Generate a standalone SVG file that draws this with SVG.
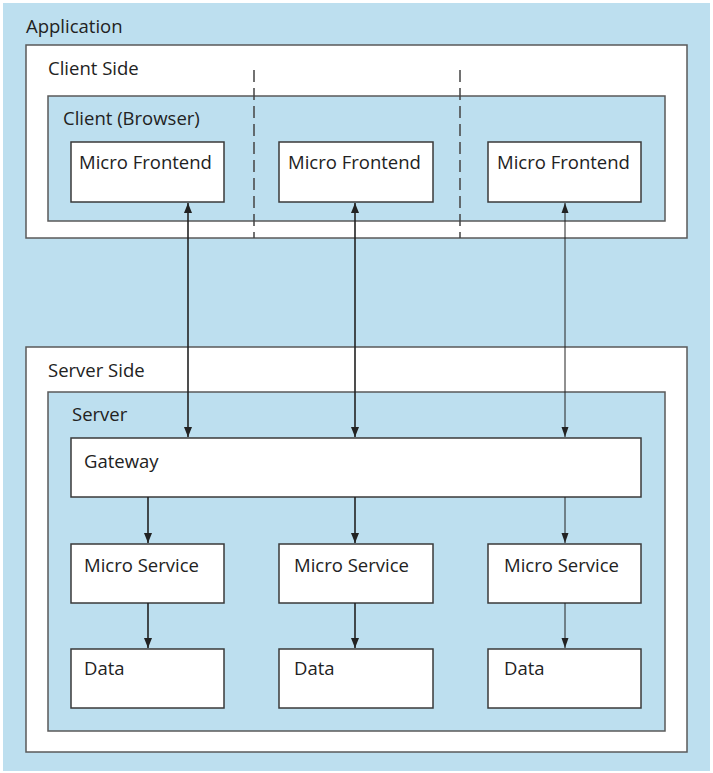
<svg xmlns="http://www.w3.org/2000/svg" width="713" height="773" viewBox="0 0 713 773">
<defs>
<style>
.bg{fill:#bddfef}
.w{fill:#ffffff;stroke:#5a5a5a;stroke-width:1.5}
.b{fill:#bddfef;stroke:#5a5a5a;stroke-width:1.5}
.n{fill:#ffffff;stroke:#3a3a3a;stroke-width:1.5}
text{font-family:"Open Sans","Noto Sans",sans-serif;font-size:18.5px;fill:#222}
.c{stroke:#222;stroke-width:1.6;fill:none}
.t{stroke:#222;stroke-width:1;fill:none}
.d{stroke:#444;stroke-width:1.5;stroke-dasharray:12,6;fill:none}
</style>
<marker id="ah" viewBox="0 0 10 10" refX="10" refY="5" markerWidth="10" markerHeight="10" markerUnits="userSpaceOnUse" orient="auto-start-reverse">
<path d="M0,1 L10,5 L0,9 z" fill="#222"/>
</marker>
<marker id="ah2" viewBox="0 0 10 10" refX="10" refY="5" markerWidth="10" markerHeight="10" markerUnits="userSpaceOnUse" orient="auto-start-reverse">
<path d="M0,1.5 L10,5 L0,8.5 z" fill="#222"/>
</marker>
</defs>
<rect class="bg" x="3" y="3" width="707" height="768"/>
<text x="26" y="33">Application</text>
<g id="client-side">
<rect class="w" x="26" y="45" width="661" height="193"/>
<text x="48" y="75">Client Side</text>
</g>
<g id="client-browser">
<rect class="b" x="48" y="96" width="617" height="125"/>
<text x="63" y="125">Client (Browser)</text>
</g>
<g id="dividers">
<line class="d" x1="254" y1="70" x2="254" y2="238"/>
<line class="d" x1="460" y1="70" x2="460" y2="238"/>
</g>
<g id="mf1"><rect class="n" x="71" y="142" width="153" height="60"/><text x="79" y="169">Micro Frontend</text></g>
<g id="mf2"><rect class="n" x="279" y="142" width="154" height="60"/><text x="288" y="169">Micro Frontend</text></g>
<g id="mf3"><rect class="n" x="488" y="142" width="153" height="60"/><text x="497" y="169">Micro Frontend</text></g>
<g id="server-side">
<rect class="w" x="26" y="347" width="661" height="405"/>
<text x="48" y="377">Server Side</text>
</g>
<g id="server">
<rect class="b" x="48" y="392" width="617" height="339"/>
<text x="72" y="421">Server</text>
</g>
<g id="gateway"><rect class="n" x="71" y="438" width="570" height="59"/><text x="84" y="468">Gateway</text></g>
<g id="ms1"><rect class="n" x="71" y="544" width="153" height="59"/><text x="84" y="572">Micro Service</text></g>
<g id="ms2"><rect class="n" x="279" y="544" width="154" height="59"/><text x="294" y="572">Micro Service</text></g>
<g id="ms3"><rect class="n" x="488" y="544" width="153" height="59"/><text x="504" y="572">Micro Service</text></g>
<g id="data1"><rect class="n" x="71" y="649" width="153" height="59"/><text x="84" y="675">Data</text></g>
<g id="data2"><rect class="n" x="279" y="649" width="154" height="59"/><text x="294" y="675">Data</text></g>
<g id="data3"><rect class="n" x="488" y="649" width="153" height="59"/><text x="504" y="675">Data</text></g>
<g id="connectors">
<line class="c" x1="188" y1="203" x2="188" y2="437" marker-start="url(#ah)" marker-end="url(#ah)"/>
<line class="c" x1="355" y1="203" x2="355" y2="437" marker-start="url(#ah)" marker-end="url(#ah)"/>
<line class="t" x1="565" y1="203" x2="565" y2="437" marker-start="url(#ah2)" marker-end="url(#ah2)"/>
<line class="c" x1="148" y1="497" x2="148" y2="543" marker-end="url(#ah)"/>
<line class="c" x1="355" y1="497" x2="355" y2="543" marker-end="url(#ah)"/>
<line class="t" x1="565" y1="497" x2="565" y2="543" marker-end="url(#ah2)"/>
<line class="c" x1="148" y1="603" x2="148" y2="648" marker-end="url(#ah)"/>
<line class="c" x1="355" y1="603" x2="355" y2="648" marker-end="url(#ah)"/>
<line class="t" x1="565" y1="603" x2="565" y2="648" marker-end="url(#ah2)"/>
</g>
</svg>
